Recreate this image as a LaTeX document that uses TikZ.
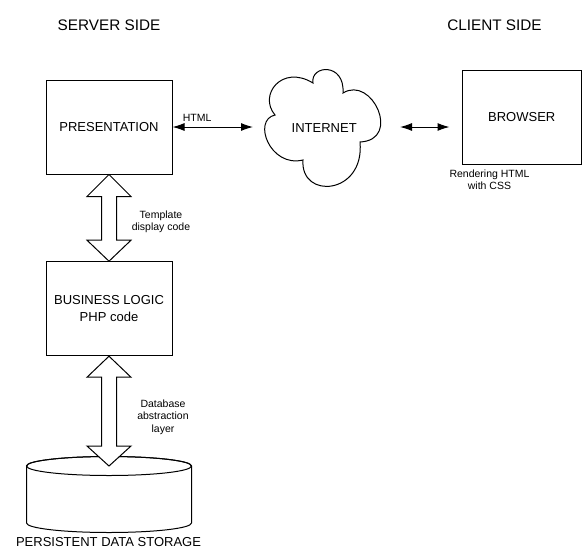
\documentclass[tikz,border=0pt]{standalone}
\usepackage{fontspec}
\setmainfont{Liberation Sans}
\usetikzlibrary{arrows.meta,calc}
\begin{document}
\begin{tikzpicture}[x=1pt,y=-1pt,
  box/.style={draw,line width=1pt,fill=white,inner sep=0pt,font=\fontsize{13}{17}\selectfont,align=center},
  heading/.style={font=\fontsize{15.3}{18}\selectfont,inner sep=0pt,anchor=base},
  bigtext/.style={font=\fontsize{13}{16}\selectfont,inner sep=0pt},
  lbl/.style={font=\fontsize{10.5}{12.5}\selectfont,inner sep=0pt,align=center},
  thinarrow/.style={line width=1pt,{Latex[length=12pt,width=8pt]}-{Latex[length=12pt,width=8pt]}},
  blockarrow/.style={draw,line width=1pt,fill=white,line join=miter},
  outlined/.style={draw,line width=1pt,fill=white},
]
\fill[white] (0,0) rectangle (582,550);
\useasboundingbox (0,0) rectangle (582,550);

% headings
\node[heading] (ss) at (109,30) {SERVER SIDE};
\node[heading] (cs) at (494.5,30) {CLIENT SIDE};

% boxes
\node[box,minimum width=126pt,minimum height=94pt] (pres) at (109,127) {PRESENTATION};
\node[box,minimum width=126pt,minimum height=94pt] (biz) at (109,308.7) {BUSINESS LOGIC\\PHP code};
\node[box,minimum width=119.5pt,minimum height=93.5pt] (browser) at (521.75,117.4) {BROWSER};

% cloud
\draw[outlined] (275,115)
  .. controls (258,95) and (282,64) .. (313,83)
  .. controls (310,65) and (345,62) .. (343,93)
  .. controls (372,75) and (402,140) .. (360,142)
  .. controls (365,195) and (300,200) .. (303,160)
  .. controls (270,168) and (252,120) .. (275,115) -- cycle;
\node[bigtext] (inet) at (324.2,128.3) {INTERNET};
\coordinate (cloudin) at (253,127);
\coordinate (cloudout) at (400,127);
\coordinate (browserin) at (449.5,127);

% thin arrows
\draw[thinarrow] (pres.east |- cloudin) -- (cloudin);
\node[lbl,anchor=base west] (html) at (182.7,121.7) {HTML};
\draw[thinarrow] (cloudout) -- (browserin);
\node[lbl] (render) at (489.5,179.8) {Rendering HTML\\with CSS};

% database cylinder
\coordinate (dbtop) at (109,466);
\draw[outlined] (26.5,466) -- (26.5,523)
  arc[start angle=180,end angle=360,x radius=82.5pt,y radius=9.5pt]
  -- (191.5,466)
  arc[start angle=0,end angle=180,x radius=82.5pt,y radius=9.5pt] -- cycle;
\draw[line width=1pt] (dbtop) ellipse[x radius=82.5pt,y radius=9.5pt];
\node[bigtext,anchor=base] (dblabel) at (108.5,546.7) {PERSISTENT DATA STORAGE};

% block arrow: presentation <-> business logic
\draw[blockarrow] (pres.south) -- ($(pres.south)+(22,22)$) -- ($(pres.south)+(7.5,22)$)
  -- ($(biz.north)+(7.5,-21)$) -- ($(biz.north)+(22,-21)$) -- (biz.north)
  -- ($(biz.north)+(-22,-21)$) -- ($(biz.north)+(-7.5,-21)$)
  -- ($(pres.south)+(-7.5,22)$) -- ($(pres.south)+(-22,22)$) -- cycle;
\node[lbl] (tpl) at (161,221.7) {Template\\display code};

% block arrow: business logic <-> database
\draw[blockarrow] (biz.south) -- ($(biz.south)+(22,21)$) -- ($(biz.south)+(7.5,21)$)
  -- ($(dbtop)+(7.5,-20)$) -- ($(dbtop)+(22,-20)$) -- (dbtop)
  -- ($(dbtop)+(-22,-20)$) -- ($(dbtop)+(-7.5,-20)$)
  -- ($(biz.south)+(-7.5,21)$) -- ($(biz.south)+(-22,21)$) -- cycle;
\node[lbl] (dbl) at (163,417.2) {Database\\abstraction\\layer};
\end{tikzpicture}
\end{document}
